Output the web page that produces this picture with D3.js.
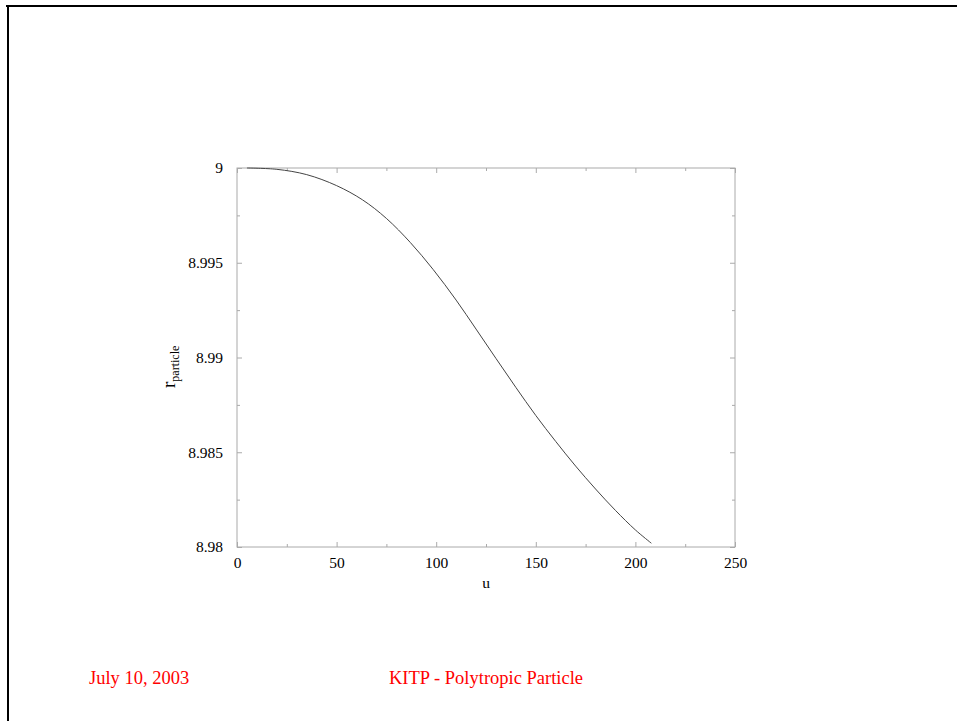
<!DOCTYPE html>
<html>
<head>
<meta charset="utf-8">
<script src="https://cdn.jsdelivr.net/npm/d3@7"></script>
<style>
  html, body { margin: 0; padding: 0; background: #fff; }
  svg { display: block; }
  text { font-family: "Liberation Serif", "DejaVu Serif", serif; }
</style>
</head>
<body>
<svg id="chart" width="957" height="721"></svg>
<script>
// ---- data ----
const uValues = [5, 20, 35, 50, 63, 75, 87, 98.5, 110, 120, 130, 140, 150, 160, 170, 180, 190, 200, 208];
const rValues = [9.00000, 8.99993, 8.99965, 8.99907, 8.99832, 8.99734, 8.99607, 8.99464, 8.99303, 8.99150,
                 8.98995, 8.98842, 8.98694, 8.98557, 8.98427, 8.98306, 8.98193, 8.98090, 8.98020];
const xTicks = [0, 50, 100, 150, 200, 250];
const xMinorTicks = [25, 75, 125, 175, 225];
const yTicks = [8.98, 8.985, 8.99, 8.995, 9];
const yMinorTicks = [8.9825, 8.9875, 8.9925, 8.9975];
const yTickLabels = ["8.98", "8.985", "8.99", "8.995", "9"];
const xLabel = "u";
const yLabelMain = "r";
const yLabelSub = "particle";
const footerLeft = "July 10, 2003";
const footerCenter = "KITP - Polytropic Particle";

const svg = d3.select("#chart");
const L = 237, R = 735, T = 168, B = 547;
const x = d3.scaleLinear().domain([0, 250]).range([L, R]);
const y = d3.scaleLinear().domain([8.98, 9]).range([B, T]);
const axisColor = "#aaaaaa";

// slide frame (top and left edges)
svg.append("line").attr("x1", 6).attr("x2", 957).attr("y1", 6).attr("y2", 6)
  .attr("stroke", "#000").attr("stroke-width", 2);
svg.append("line").attr("x1", 8).attr("x2", 8).attr("y1", 5).attr("y2", 721)
  .attr("stroke", "#000").attr("stroke-width", 2);

// plot box
svg.append("rect").attr("x", L).attr("y", T).attr("width", R - L).attr("height", B - T)
  .attr("fill", "none").attr("stroke", axisColor).attr("stroke-width", 1);

const g = svg.append("g");
function styleAxis(sel) {
  sel.attr("font-family", null).attr("font-size", null);
  sel.select(".domain").remove();
  sel.selectAll(".tick line").attr("stroke", axisColor);
  sel.selectAll(".tick text").attr("fill", "#000").style("font-size", "15.5px")
     .style("font-family", "'Liberation Serif', serif");
}
// major ticks, inward
g.append("g").attr("transform", `translate(0,${B})`)
  .call(d3.axisBottom(x).tickValues(xTicks).tickSize(-5).tickPadding(10).tickFormat(d3.format("d")))
  .call(styleAxis);
g.append("g").attr("transform", `translate(0,${T})`)
  .call(d3.axisTop(x).tickValues(xTicks).tickSize(-5).tickFormat(""))
  .call(styleAxis);
g.append("g").attr("transform", `translate(${L},0)`)
  .call(d3.axisLeft(y).tickValues(yTicks).tickSize(-5).tickPadding(14)
    .tickFormat((d, i) => yTickLabels[i]))
  .call(styleAxis);
g.append("g").attr("transform", `translate(${R},0)`)
  .call(d3.axisRight(y).tickValues(yTicks).tickSize(-5).tickFormat(""))
  .call(styleAxis);
// minor ticks
g.append("g").attr("transform", `translate(0,${B})`)
  .call(d3.axisBottom(x).tickValues(xMinorTicks).tickSize(-3).tickFormat(""))
  .call(styleAxis);
g.append("g").attr("transform", `translate(0,${T})`)
  .call(d3.axisTop(x).tickValues(xMinorTicks).tickSize(-3).tickFormat(""))
  .call(styleAxis);
g.append("g").attr("transform", `translate(${L},0)`)
  .call(d3.axisLeft(y).tickValues(yMinorTicks).tickSize(-3).tickFormat(""))
  .call(styleAxis);
g.append("g").attr("transform", `translate(${R},0)`)
  .call(d3.axisRight(y).tickValues(yMinorTicks).tickSize(-3).tickFormat(""))
  .call(styleAxis);

// curve
const pts = uValues.map((u, i) => [u, rValues[i]]);
svg.append("path").datum(pts)
  .attr("fill", "none").attr("stroke", "#444").attr("stroke-width", 1)
  .attr("d", d3.line().x(d => x(d[0])).y(d => y(d[1])).curve(d3.curveCatmullRom.alpha(0.5)));

// axis labels
svg.append("text").attr("x", (L + R) / 2).attr("y", 588).attr("text-anchor", "middle")
  .attr("font-size", "15.5px").text(xLabel);
const yl = svg.append("text").attr("transform", "translate(175,388) rotate(-90)");
yl.append("tspan").attr("font-size", "19px").text(yLabelMain);
yl.append("tspan").attr("font-size", "12px").attr("dy", 4).text(yLabelSub);

// footer
svg.append("text").attr("x", 89).attr("y", 684).attr("fill", "#ff0000")
  .attr("font-size", "18.5px").text(footerLeft);
svg.append("text").attr("x", 389).attr("y", 684).attr("fill", "#ff0000")
  .attr("font-size", "18.5px").text(footerCenter);
</script>
</body>
</html>
